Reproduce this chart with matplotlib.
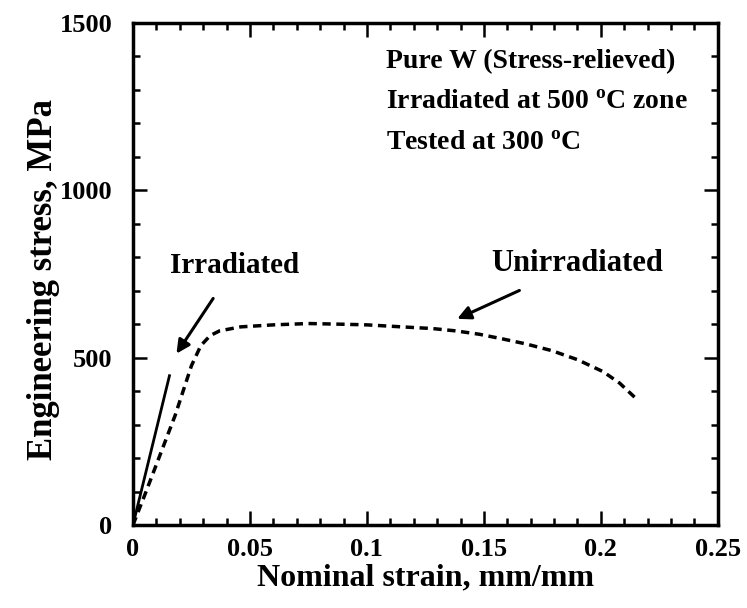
import numpy as np
import matplotlib
matplotlib.use("Agg")
from matplotlib import pyplot as plt
from matplotlib.ticker import MultipleLocator

# Irradiated curve (solid, fractures early)
irr_strain = [0.0, 0.0156]
irr_stress = [0, 446]

# Unirradiated curve (dashed)
unirr_strain = [0.0, 0.005, 0.018, 0.025, 0.029, 0.033, 0.037, 0.046, 0.06, 0.075,
                0.089, 0.10, 0.115, 0.128, 0.138, 0.148, 0.158, 0.168, 0.179, 0.19,
                0.201, 0.208, 0.215]
unirr_stress = [0, 89, 327, 476, 536, 566, 580, 592, 598, 602,
                600, 598, 592, 587, 580, 570, 556, 541, 521, 494,
                458, 424, 378]

xtick_labels = ['0', '0.05', '0.1', '0.15', '0.2', '0.25']

plt.rcParams['font.family'] = ['Liberation Serif', 'DejaVu Serif']
plt.rcParams['font.weight'] = 'bold'
plt.rcParams['mathtext.fontset'] = 'custom'
plt.rcParams['mathtext.rm'] = 'Liberation Serif:bold'
plt.rcParams['mathtext.it'] = 'Liberation Serif:bold'
plt.rcParams['mathtext.bf'] = 'Liberation Serif:bold'

fig = plt.figure(figsize=(7.47, 6.08), dpi=100)
ax = fig.add_axes([0.178, 0.1365, 0.783, 0.8257])

ax.plot(irr_strain, irr_stress, color='black', lw=2.0)
ax.plot(unirr_strain, unirr_stress, color='black', lw=2.5, linestyle=(0, (2.4, 1.6)))

ax.set_xlim(0, 0.25)
ax.set_ylim(0, 1500)
ax.xaxis.set_minor_locator(MultipleLocator(0.01))
ax.yaxis.set_major_locator(MultipleLocator(500))
ax.yaxis.set_minor_locator(MultipleLocator(100))
ax.set_xticks([0, 0.05, 0.1, 0.15, 0.2, 0.25])
ax.set_xticklabels(xtick_labels)

ax.tick_params(which='both', direction='in', top=True, right=True, width=1.8)
ax.tick_params(which='major', length=10, labelsize=19)
ax.tick_params(axis='y', which='major', pad=15)
ax.tick_params(axis='x', which='major', pad=9)
ax.tick_params(which='minor', length=5)
for s in ax.spines.values():
    s.set_linewidth(2.5)

ax.set_xlabel('Nominal strain, mm/mm', fontsize=23, fontweight='bold', labelpad=2)
ax.set_ylabel('Engineering stress, MPa', fontsize=25, fontweight='bold', labelpad=0)
ax.yaxis.set_label_coords(-0.124, 0.49)

ax.text(0.108, 1385, 'Pure W (Stress-relieved)', fontsize=20, fontweight='bold', va='center')
ax.text(0.108, 1265, 'Irradiated at 500 $^{o}$C zone', fontsize=20, fontweight='bold', va='center')
ax.text(0.108, 1143, 'Tested at 300 $^{o}$C', fontsize=20, fontweight='bold', va='center')

ax.annotate('Irradiated', xy=(0.0186, 512), xytext=(0.0435, 774), fontsize=21,
            fontweight='bold', ha='center', va='center',
            arrowprops=dict(arrowstyle='-|>', color='black', lw=2.2, mutation_scale=20,
                            shrinkA=14, shrinkB=0))
ax.annotate('Unirradiated', xy=(0.1386, 616), xytext=(0.19, 780), fontsize=22,
            fontweight='bold', ha='center', va='center',
            arrowprops=dict(arrowstyle='-|>', color='black', lw=2.2, mutation_scale=20,
                            shrinkA=16, shrinkB=0))

fig.savefig('out.png', dpi=100)
